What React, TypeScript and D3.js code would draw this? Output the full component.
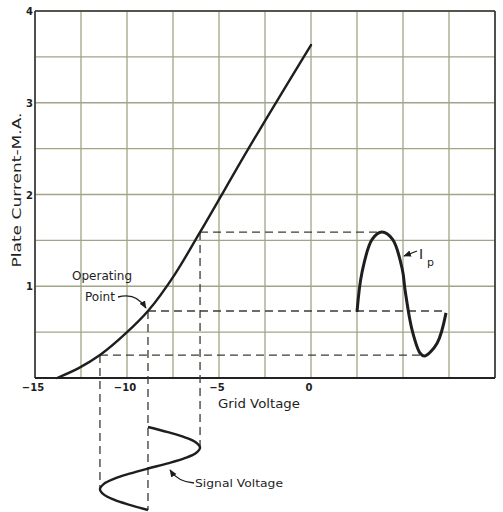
import React from "react";
import * as d3 from "d3";

// ---- data ----
const gridVoltage = [-13.8, -12.6, -11.47, -10.1, -8.86, -7.4, -6.03, -3.4, 0];
const plateCurrent = [0, 0.11, 0.25, 0.48, 0.73, 1.13, 1.59, 2.5, 3.63];

const xTicks = [-15, -10, -5, 0];
const yTicks = [1, 2, 3, 4];

// operating point and signal swing
const opV = -8.86;
const opI = 0.73;
const swingV = [-11.47, -6.03];
const swingI = [0.25, 1.59];

// signal voltage wave (time 0..1 downward, volts)
const sigT = [0, 0.0625, 0.125, 0.1875, 0.25, 0.3125, 0.375, 0.4375, 0.5, 0.5625, 0.625, 0.6875, 0.75, 0.8125, 0.875, 0.9375, 1];
const sigV = [-8.86, -7.78, -6.86, -6.25, -6.03, -6.25, -6.86, -7.78, -8.86, -9.86, -10.71, -11.27, -11.47, -11.27, -10.71, -9.86, -8.86];

// plate current wave (time 0..1 rightward, mA)
const ipT = [0, 0.056, 0.17, 0.28, 0.4, 0.51, 0.54, 0.62, 0.71, 0.76, 0.9, 1];
const ipI = [0.72, 1.15, 1.51, 1.59, 1.51, 1.18, 0.96, 0.52, 0.27, 0.24, 0.38, 0.71];

export default function App() {
  const W = 503, H = 512;
  const x = d3.scaleLinear().domain([-15, 10]).range([35, 495]);
  const y = d3.scaleLinear().domain([0, 4]).range([378, 11]);
  const tSig = d3.scaleLinear().domain([0, 1]).range([427, 510]);
  const tIp = d3.scaleLinear().domain([0, 1]).range([357, 446]);

  const vGrid = d3.range(-15, 10.01, 2.5);
  const hGrid = d3.range(0, 4.01, 0.5);

  const curve = d3.line<number>()
    .x((_, i) => x(gridVoltage[i]))
    .y((_, i) => y(plateCurrent[i]))
    .curve(d3.curveMonotoneX)(gridVoltage);

  const sigPath = d3.line<number>()
    .x((_, i) => x(sigV[i]))
    .y((_, i) => tSig(sigT[i]))
    .curve(d3.curveCatmullRom.alpha(0.5))(sigT);

  const ipPath = d3.line<number>()
    .x((_, i) => tIp(ipT[i]))
    .y((_, i) => y(ipI[i]))
    .curve(d3.curveCatmullRom.alpha(0.5))(ipT);

  const gridColor = "#a2a486";
  const ink = "#1e1e1e";
  const dash = "#3c3c32";
  const font = "'DejaVu Sans', sans-serif";

  const ipEnds = [tIp(0.26), tIp(1), tIp(0.74)];

  return (
    <svg width={W} height={H} style={{ position: "absolute", left: 0, top: 0, background: "#fff" }}>
      <defs>
        <marker id="ah" viewBox="0 0 10 10" refX="9" refY="5" markerWidth="6" markerHeight="6" orient="auto">
          <path d="M0,1 L10,5 L0,9 Z" fill={ink} />
        </marker>
      </defs>
      {/* grid */}
      {vGrid.map((v) => (
        <line key={"v" + v} x1={x(v)} x2={x(v)} y1={y(4)} y2={y(0)} stroke={gridColor} strokeWidth={1.3} />
      ))}
      {hGrid.map((h) => (
        <line key={"h" + h} x1={x(-15)} x2={x(10)} y1={y(h)} y2={y(h)} stroke={gridColor} strokeWidth={1.3} />
      ))}
      {/* frame */}
      <line x1={x(-15)} x2={x(-15)} y1={y(4)} y2={y(0)} stroke="#333" strokeWidth={1.6} />
      <line x1={x(10)} x2={x(10)} y1={y(4)} y2={y(0)} stroke="#333" strokeWidth={1.6} />
      <line x1={x(-15)} x2={x(10)} y1={y(4)} y2={y(4)} stroke="#333" strokeWidth={1.4} />
      <line x1={x(-15)} x2={x(10)} y1={y(0)} y2={y(0)} stroke="#222" strokeWidth={1.8} />

      {/* dashed projection lines */}
      <g stroke={dash} strokeWidth={1.3} strokeDasharray="8,5" fill="none">
        <line x1={x(swingV[1])} x2={ipEnds[0]} y1={y(swingI[1])} y2={y(swingI[1])} />
        <line x1={x(opV)} x2={ipEnds[1]} y1={y(opI)} y2={y(opI)} />
        <line x1={x(swingV[0])} x2={ipEnds[2]} y1={y(swingI[0])} y2={y(swingI[0])} />
        <line x1={x(swingV[0])} x2={x(swingV[0])} y1={y(swingI[0])} y2={tSig(0.75)} />
        <line x1={x(opV)} x2={x(opV)} y1={y(opI)} y2={tSig(1)} />
        <line x1={x(swingV[1])} x2={x(swingV[1])} y1={y(swingI[1])} y2={tSig(0.25)} />
      </g>

      {/* characteristic curve */}
      <path d={curve || ""} fill="none" stroke={ink} strokeWidth={2.4} strokeLinecap="round" />
      {/* plate current wave */}
      <path d={ipPath || ""} fill="none" stroke={ink} strokeWidth={3} strokeLinecap="butt" />
      {/* signal wave */}
      <path d={sigPath || ""} fill="none" stroke={ink} strokeWidth={2.4} />

      {/* tick labels */}
      {xTicks.map((t) => (
        <text key={"xt" + t} x={x(t) - 2} y={391} textAnchor="middle" fontFamily={font} fontWeight="bold" fontSize={10} fill={ink}>
          {t === 0 ? "0" : "\u2212" + Math.abs(t)}
        </text>
      ))}
      {yTicks.map((t) => (
        <text key={"yt" + t} x={33} y={y(t) + 4} textAnchor="end" fontFamily={font} fontWeight="bold" fontSize={10} fill={ink}>
          {t}
        </text>
      ))}

      {/* axis titles */}
      <text x={259} y={408} textAnchor="middle" fontFamily={font} fontSize={13} fill={ink} textLength={82} lengthAdjust="spacingAndGlyphs">
        Grid Voltage
      </text>
      <text transform="translate(21,190) rotate(-90)" textAnchor="middle" fontFamily={font} fontSize={13} fill={ink} textLength={155} lengthAdjust="spacingAndGlyphs">
        Plate Current-M.A.
      </text>

      {/* annotations */}
      <text x={102} y={280} textAnchor="middle" fontFamily={font} fontSize={12} fill={ink} textLength={60} lengthAdjust="spacingAndGlyphs">
        Operating
      </text>
      <text x={100} y={301} textAnchor="middle" fontFamily={font} fontSize={12} fill={ink} textLength={30} lengthAdjust="spacingAndGlyphs">
        Point
      </text>
      <path d={`M118,297 Q136,292 ${x(opV) - 2},${y(opI) - 3}`} fill="none" stroke={ink} strokeWidth={1.3} markerEnd="url(#ah)" />

      <text x={419} y={259} fontFamily={font} fontSize={14} fill={ink}>I</text>
      <text x={427} y={266} fontFamily={font} fontSize={11} fill={ink}>p</text>
      <path d="M417,251 L404,256" fill="none" stroke={ink} strokeWidth={1.3} markerEnd="url(#ah)" />

      <text x={195} y={487} fontFamily={font} fontSize={11} fill={ink} textLength={88} lengthAdjust="spacingAndGlyphs">
        Signal Voltage
      </text>
      <path d="M194,483 Q178,482 170,470" fill="none" stroke={ink} strokeWidth={1.3} markerEnd="url(#ah)" />
    </svg>
  );
}
